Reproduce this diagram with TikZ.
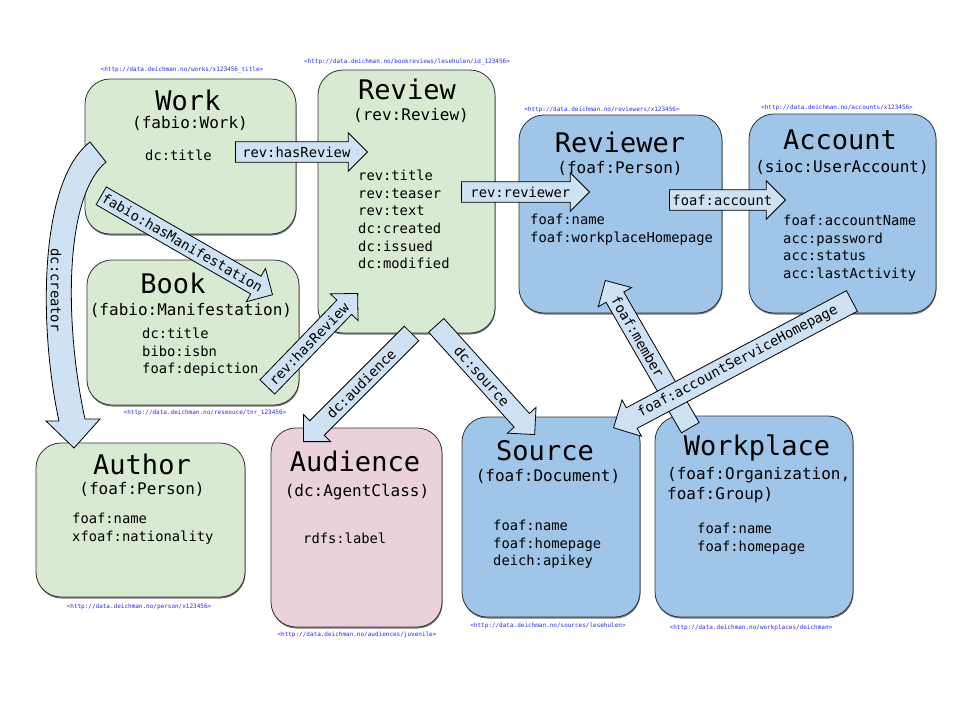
\documentclass[tikz,border=0pt]{standalone}
\usepackage{fontspec}
\setmonofont{DejaVu Sans Mono}
\usepackage{tikz}
\usetikzlibrary{shapes.arrows,shadows}

\definecolor{greenbox}{RGB}{217,234,211}
\definecolor{bluebox}{RGB}{159,197,232}
\definecolor{pinkbox}{RGB}{234,209,220}
\definecolor{arrowfill}{RGB}{207,226,243}
\definecolor{urlblue}{RGB}{40,40,230}

\tikzset{
  box/.style={shape=rectangle,rounded corners=25pt,draw=black!80,line width=0.8pt,
    drop shadow={shadow xshift=0.5pt,shadow yshift=-1.5pt,fill=black!55,opacity=1}},
  title/.style={font=\ttfamily\fontsize{27}{30}\selectfont,inner sep=0pt},
  kind/.style={font=\ttfamily\fontsize{16}{20}\selectfont,inner sep=0pt},
  props/.style={font=\ttfamily\fontsize{13.8}{17.6}\selectfont,align=left,anchor=north west,inner sep=0pt},
  url/.style={font=\ttfamily\fontsize{6}{7}\selectfont,text=urlblue,inner sep=0pt},
  bigarrow/.style={single arrow,draw=black,fill=arrowfill,line width=0.8pt,
    font=\ttfamily\fontsize{13.8}{16}\selectfont,inner xsep=2pt,inner ysep=4.5pt,
    single arrow head extend=9pt,anchor=tip}
}

\begin{document}
\begin{tikzpicture}[x=1pt,y=-1pt]
	\useasboundingbox (0,0) rectangle (960,720);

	% boxes
	\node[box,fill=greenbox,minimum width=211pt,minimum height=155pt] (work) at (190.5,156.5) {};
	\node[box,fill=greenbox,minimum width=177pt,minimum height=263pt] (review) at (406.5,201.5) {};
	\node[box,fill=greenbox,minimum width=212pt,minimum height=145pt] (book) at (193,332.5) {};
	\node[box,fill=bluebox,minimum width=203pt,minimum height=198pt] (reviewer) at (620.5,214) {};
	\node[box,fill=bluebox,minimum width=187pt,minimum height=199pt] (account) at (842.5,213.5) {};
	\node[box,fill=greenbox,minimum width=209pt,minimum height=154pt] (author) at (140.5,520) {};
	\node[box,fill=pinkbox,minimum width=171pt,minimum height=199pt] (audience) at (356.5,527.5) {};
	\node[box,fill=bluebox,minimum width=178pt,minimum height=200pt] (source) at (551,517) {};
	\node[box,fill=bluebox,minimum width=198pt,minimum height=201pt] (workplace) at (754,516.5) {};

	% titles and classes
	\node[title] (workT) at (188,100) {Work};
	\node[kind] (workK) at (190,123) {(fabio:Work)};
	\node[props] (workP) at (145,150) {dc:title};

	\node[title] (reviewT) at (407,89) {Review};
	\node[kind] (reviewK) at (411,115) {(rev:Review)};
	\node[props] (reviewP) at (358,170) {rev:title\\rev:teaser\\rev:text\\dc:created\\dc:issued\\dc:modified};

	\node[title] (bookT) at (173,283) {Book};
	\node[kind] (bookK) at (191,310) {(fabio:Manifestation)};
	\node[props] (bookP) at (142,328) {dc:title\\bibo:isbn\\foaf:depiction};

	\node[title] (reviewerT) at (620,142) {Reviewer};
	\node[kind] (reviewerK) at (620,168) {(foaf:Person)};
	\node[props] (reviewerP) at (530,214) {foaf:name\\foaf:workplaceHomepage};

	\node[title] (accountT) at (840,140) {Account};
	\node[kind] (accountK) at (842,167) {(sioc:UserAccount)};
	\node[props] (accountP) at (783,215) {foaf:accountName\\acc:password\\acc:status\\acc:lastActivity};

	\node[title] (authorT) at (142,464) {Author};
	\node[kind] (authorK) at (142,489) {(foaf:Person)};
	\node[props] (authorP) at (72,513) {foaf:name\\xfoaf:nationality};

	\node[title] (audienceT) at (355,461) {Audience};
	\node[kind] (audienceK) at (357,492) {(dc:AgentClass)};
	\node[props] (audienceP) at (303,533) {rdfs:label};

	\node[title] (sourceT) at (545,451) {Source};
	\node[kind] (sourceK) at (548,476) {(foaf:Document)};
	\node[props] (sourceP) at (493,520) {foaf:name\\foaf:homepage\\deich:apikey};

	\node[title] (workplaceT) at (757,448) {Workplace};
	\node[kind,align=left,anchor=north west] (workplaceK) at (667,467) {(foaf:Organization,\\foaf:Group)};
	\node[props] (workplaceP) at (697,523) {foaf:name\\foaf:homepage};

	% uris
	\node[url] (workU) at (182,70) {<http://data.deichman.no/works/x123456\_title>};
	\node[url] (reviewU) at (407,62) {<http://data.deichman.no/bookreviews/lesehulen/id\_123456>};
	\node[url] (reviewerU) at (602,110) {<http://data.deichman.no/reviewers/x123456>};
	\node[url] (accountU) at (837,108) {<http://data.deichman.no/accounts/x123456>};
	\node[url] (bookU) at (205,413) {<http://data.deichman.no/reseouce/tnr\_123456>};
	\node[url] (authorU) at (139,607) {<http://data.deichman.no/person/x123456>};
	\node[url] (audienceU) at (357,635) {<http://data.deichman.no/audiences/juvenile>};
	\node[url] (sourceU) at (548,626) {<http://data.deichman.no/sources/lesehulen>};
	\node[url] (workplaceU) at (751,628) {<http://data.deichman.no/workplaces/deichman>};

	% dc:creator
	\draw[fill=arrowfill,line width=0.8pt,line join=miter]
	  (90,142) .. controls (38,182) and (39,330) .. (59,421) -- (46,421) -- (74,448)
	  -- (100,419) -- (85,419) .. controls (65,328) and (63,198) .. (106,162) -- cycle;
	\node[font=\ttfamily\fontsize{13.8}{16}\selectfont,rotate=-90] (creator) at (56,290) {dc:creator};

	% properties
	\node[bigarrow,minimum height=132pt] (hasReview) at (368,152) {rev:hasReview};
	\node[bigarrow,minimum height=128pt] (reviewerA) at (590,192) {rev:reviewer};
	\node[bigarrow,minimum height=116pt] (accountA) at (786,200) {foaf:account};
	\node[bigarrow,minimum height=196pt,rotate=-30] (hasManif) at (273,295) {fabio:hasManifestation};
	\node[bigarrow,minimum height=130pt,rotate=46] (hasReviewB) at (358,293) {rev:hasReview};
	\node[bigarrow,minimum height=153pt,rotate=45,shape border rotate=180] (audienceA) at (303,442) {dc:audience};
	\node[bigarrow,minimum height=147pt,rotate=-48] (sourceA) at (535,435) {dc:source};
	\node[bigarrow,minimum height=170pt,rotate=-60,shape border rotate=180] (member) at (605,280) {foaf:member\hspace*{50pt}};
	\node[bigarrow,minimum height=270pt,rotate=28,shape border rotate=180] (homepage) at (613,428) {foaf:accountServiceHomepage};
\end{tikzpicture}
\end{document}
